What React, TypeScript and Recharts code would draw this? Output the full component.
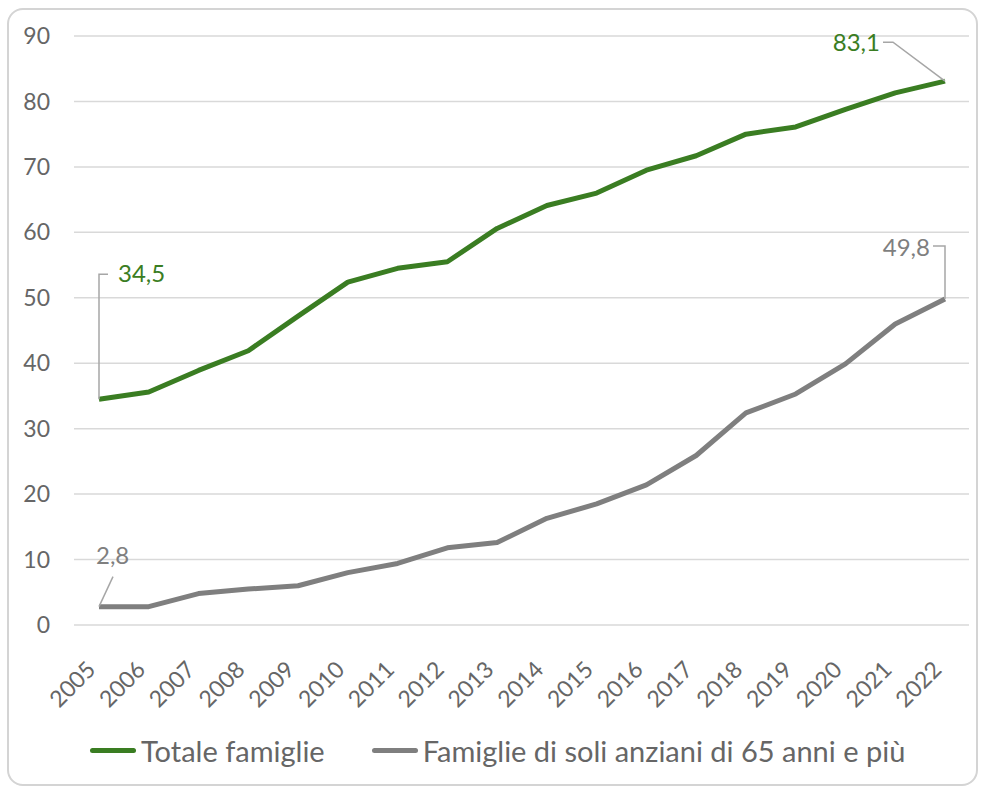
import { LineChart, Line, XAxis, YAxis, CartesianGrid, Legend, LabelList } from 'recharts'

const years = [
  '2005', '2006', '2007', '2008', '2009', '2010', '2011', '2012', '2013',
  '2014', '2015', '2016', '2017', '2018', '2019', '2020', '2021', '2022',
]
const totaleFamiglie = [
  34.5, 35.6, 38.9, 41.9, 47.2, 52.4, 54.5, 55.5, 60.6,
  64.1, 66.0, 69.5, 71.7, 75.0, 76.1, 78.8, 81.3, 83.1,
]
const famiglieAnziani = [
  2.8, 2.8, 4.8, 5.5, 6.0, 8.0, 9.4, 11.8, 12.6,
  16.3, 18.5, 21.4, 25.9, 32.4, 35.3, 39.9, 46.0, 49.8,
]
const yTicks = [0, 10, 20, 30, 40, 50, 60, 70, 80, 90]
const seriesNames = ['Totale famiglie', 'Famiglie di soli anziani di 65 anni e più']

const GREEN = '#3a7d22'
const GRAY = '#7f7f7f'
const LEADER = '#a6a6a6'
const TEXT = '#666666'
const FONT = 'Lato, "Open Sans", sans-serif'

const chartData = years.map((year, i) => ({
  year,
  totale: totaleFamiglie[i],
  anziani: famiglieAnziani[i],
}))

const fmt = (v: number) => v.toFixed(1).replace('.', ',')
const last = years.length - 1

function GreenLabel(props: any) {
  const { x, y, value, index } = props
  if (index === 0) {
    return (
      <g>
        <polyline points={`${x},${y} ${x},${y - 125} ${x + 9},${y - 125}`} fill="none" stroke={LEADER} strokeWidth={1.5} />
        <text x={x + 19} y={y - 117} fill={GREEN} fontSize={24} fontFamily={FONT}>{fmt(value)}</text>
      </g>
    )
  }
  if (index === last) {
    return (
      <g>
        <polyline points={`${x},${y} ${x - 52},${y - 39} ${x - 62},${y - 39}`} fill="none" stroke={LEADER} strokeWidth={1.5} />
        <text x={x - 65} y={y - 30} fill={GREEN} fontSize={24} fontFamily={FONT} textAnchor="end">{fmt(value)}</text>
      </g>
    )
  }
  return null
}

function GrayLabel(props: any) {
  const { x, y, value, index } = props
  if (index === 0) {
    return (
      <g>
        <line x1={x} y1={y} x2={x + 14} y2={y - 30} stroke={LEADER} strokeWidth={1.5} />
        <text x={x - 3} y={y - 43} fill={GRAY} fontSize={24} fontFamily={FONT}>{fmt(value)}</text>
      </g>
    )
  }
  if (index === last) {
    return (
      <g>
        <polyline points={`${x},${y} ${x},${y - 53} ${x - 12},${y - 53}`} fill="none" stroke={LEADER} strokeWidth={1.5} />
        <text x={x - 15} y={y - 43} fill={GRAY} fontSize={24} fontFamily={FONT} textAnchor="end">{fmt(value)}</text>
      </g>
    )
  }
  return null
}

function YearTick(props: any) {
  const { x, y, payload } = props
  return (
    <g transform={`translate(${x - 2},${y + 44}) rotate(-45)`}>
      <text x={0} y={0} textAnchor="end" fill={TEXT} fontSize={23} fontFamily={FONT}>
        {payload.value}
      </text>
    </g>
  )
}

function LegendContent() {
  const colors = [GREEN, GRAY]
  return (
    <div style={{ display: 'flex', alignItems: 'center', paddingLeft: 90, fontFamily: FONT, fontSize: 29, color: TEXT }}>
      {seriesNames.map((name, i) => (
        <div key={name} style={{ display: 'flex', alignItems: 'center', marginRight: 47 }}>
          <span style={{ display: 'inline-block', width: 46, height: 5, borderRadius: 3, background: colors[i], marginRight: 5 }} />
          <span>{name}</span>
        </div>
      ))}
    </div>
  )
}

export default function App() {
  return (
    <div style={{ position: 'absolute', left: 0, top: 0, width: 982, height: 789, background: '#fff' }}>
      <div
        style={{
          position: 'absolute',
          left: 7,
          top: 8,
          width: 971,
          height: 778,
          border: '2px solid #d4d4d4',
          borderRadius: 16,
          boxSizing: 'border-box',
        }}
      />
      <LineChart
        width={982}
        height={789}
        data={chartData}
        margin={{ top: 36, right: 13, left: 0, bottom: 74 }}
      >
        <CartesianGrid vertical={false} stroke="#d9d9d9" strokeWidth={1.5} />
        <XAxis
          dataKey="year"
          interval={0}
          axisLine={false}
          tickLine={false}
          tickSize={0}
          padding={{ left: 25, right: 24 }}
          tick={<YearTick />}
          height={90}
        />
        <YAxis
          domain={[0, 90]}
          ticks={yTicks}
          width={74}
          axisLine={false}
          tickLine={false}
          tickSize={0}
          tickMargin={24}
          tick={{ fill: TEXT, fontSize: 23, fontFamily: FONT }}
        />
        <Legend
          layout="horizontal"
          verticalAlign="middle"
          align="center"
          wrapperStyle={{ top: 733, left: 0, width: 982 }}
          content={<LegendContent />}
        />
        <Line
          type="linear"
          dataKey="totale"
          name={seriesNames[0]}
          stroke={GREEN}
          strokeWidth={5}
          strokeLinejoin="round"
          dot={false}
          isAnimationActive={false}
        >
          <LabelList dataKey="totale" content={<GreenLabel />} />
        </Line>
        <Line
          type="linear"
          dataKey="anziani"
          name={seriesNames[1]}
          stroke={GRAY}
          strokeWidth={5}
          strokeLinejoin="round"
          dot={false}
          isAnimationActive={false}
        >
          <LabelList dataKey="anziani" content={<GrayLabel />} />
        </Line>
      </LineChart>
    </div>
  )
}
